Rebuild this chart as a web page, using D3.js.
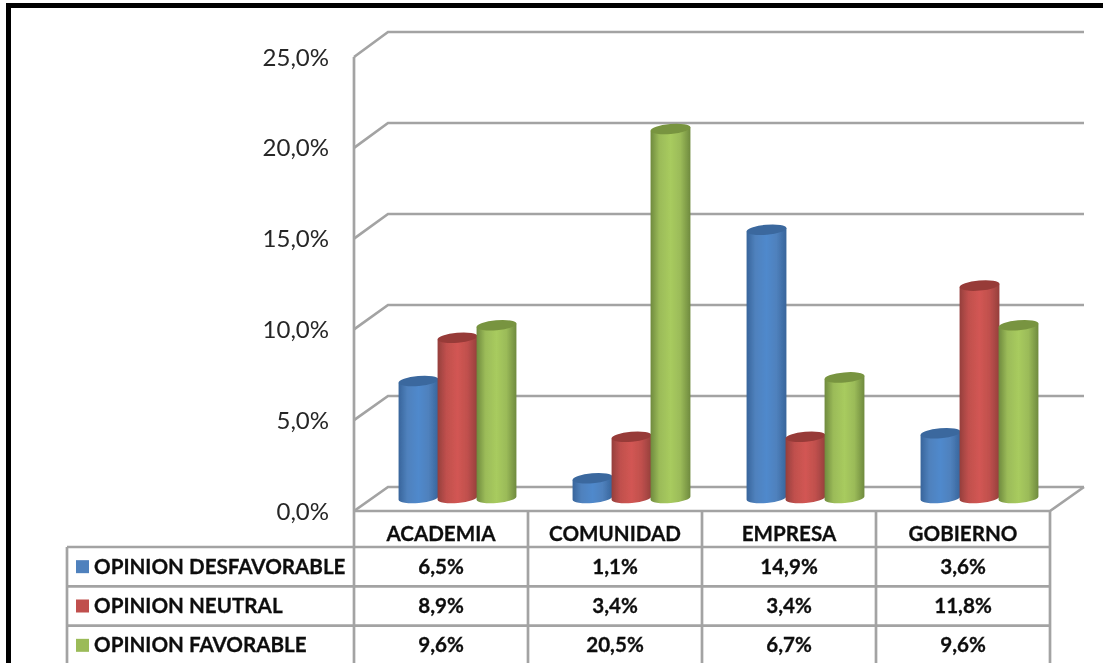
<!DOCTYPE html>
<html>
<head>
<meta charset="utf-8">
<script src="https://cdn.jsdelivr.net/npm/d3@7"></script>
<style>
  html, body { margin: 0; padding: 0; background: #fff; overflow: hidden; }
  text { font-family: Lato, "Open Sans", sans-serif; }
  .cell { font-size: 20.6px; font-weight: bold; fill: #111; stroke: #111; stroke-width: 0.3px; }
</style>
</head>
<body>
<div id="chart"></div>
<script>
const categories = ["ACADEMIA", "COMUNIDAD", "EMPRESA", "GOBIERNO"];
const seriesNames = ["OPINION DESFAVORABLE", "OPINION NEUTRAL", "OPINION FAVORABLE"];
const desfavorable = [6.5, 1.1, 14.9, 3.6];
const neutral = [8.9, 3.4, 3.4, 11.8];
const favorable = [9.6, 20.5, 6.7, 9.6];
const yTicks = [0, 5, 10, 15, 20, 25];
const seriesValues = [desfavorable, neutral, favorable];

const width = 1103, height = 663;
const colors = [
    { base: "#4f81bd", edge: "#38659b", light: "#5089cc", top: "#3a689e" },
    { base: "#c0504d", edge: "#953f3c", light: "#d25653", top: "#973a38" },
    { base: "#9bbb59", edge: "#6f8a3e", light: "#a8cb5e", top: "#78943f" }
];
const gridColor = "#a3a3a3";
const gridWidth = 2.7;

const svg = d3.select("#chart").append("svg")
    .attr("width", width)
    .attr("height", height);

const defs = svg.append("defs");
defs.append("filter").attr("id", "soft")
    .append("feGaussianBlur").attr("stdDeviation", 0.45);

colors.forEach((c, i) => {
    const g = defs.append("linearGradient").attr("id", "cyl" + i);
    g.append("stop").attr("offset", "0%").attr("stop-color", c.edge);
    g.append("stop").attr("offset", "22%").attr("stop-color", c.base);
    g.append("stop").attr("offset", "50%").attr("stop-color", c.light);
    g.append("stop").attr("offset", "75%").attr("stop-color", c.base);
    g.append("stop").attr("offset", "100%").attr("stop-color", c.edge);
});

const root = svg.append("g").attr("filter", "url(#soft)");

// black frame, top and left only
root.append("path")
    .attr("d", "M8.5,663V5.5H1103")
    .attr("fill", "none")
    .attr("stroke", "#000")
    .attr("stroke-width", 5);

// scales: front edge, back wall and the plane where the bars stand
const yFront = d3.scaleLinear().domain([0, 25]).range([511, 57]);
const yBack = d3.scaleLinear().domain([0, 25]).range([487, 32]);
const yBar = d3.scaleLinear().domain([0, 25]).range([498, 48]);
const x = d3.scaleBand().domain(categories).range([354, 1050]);
const depth = 34;

// walls
root.append("g").selectAll("path")
    .data(yTicks)
    .enter()
    .append("path")
    .attr("d", d => `M${x.range()[0]},${yFront(d)}L${x.range()[0] + depth},${yBack(d)}H${x.range()[1] + depth}`)
    .attr("fill", "none")
    .attr("stroke", gridColor)
    .attr("stroke-width", gridWidth);

root.append("path")
    .attr("d", `M${x.range()[0]},${yFront(0)}H${x.range()[1]}L${x.range()[1] + depth},${yBack(0)}`)
    .attr("fill", "none")
    .attr("stroke", gridColor)
    .attr("stroke-width", gridWidth);

// y axis
const yAxis = root.append("g")
    .attr("transform", `translate(${x.range()[0]},0)`)
    .call(d3.axisLeft(yFront).tickValues(yTicks).tickSize(0).tickPadding(25)
        .tickFormat(d => d.toFixed(1).replace(".", ",") + "%"));
yAxis.select(".domain").remove();
yAxis.selectAll("text")
    .style("font-size", "24px")
    .attr("fill", "#262626")
    .attr("dy", "0.34em");

// bars
const inner = d3.scaleBand().domain(d3.range(3)).range([45, 162]);
const rx = inner.bandwidth() / 2 + 0.5, ry = 5, tilt = -5;
const ex = rx * Math.cos(tilt * Math.PI / 180);
const ey = rx * Math.sin(tilt * Math.PI / 180);

seriesValues.forEach((values, s) => {
    const g = root.append("g");
    values.forEach((v, i) => {
        const cx = x(categories[i]) + inner(s) + inner.bandwidth() / 2;
        const yb = yBar(0), yt = yBar(v);
        // body
        g.append("path")
            .attr("d", `M${cx - ex},${yt - ey}L${cx - ex},${yb - ey}` +
                `A${rx},${ry} ${tilt} 0 0 ${cx + ex},${yb + ey}` +
                `L${cx + ex},${yt + ey}Z`)
            .attr("fill", `url(#cyl${s})`);
        // top cap
        g.append("ellipse")
            .attr("cx", cx)
            .attr("cy", yt)
            .attr("rx", rx)
            .attr("ry", ry)
            .attr("transform", `rotate(${tilt} ${cx} ${yt})`)
            .attr("fill", colors[s].top);
    });
});

// data table
const tableLeft = 67;
const rows = d3.scaleBand().domain(seriesNames).range([547, 665]);
const table = root.append("g");

table.append("g").selectAll("line")
    .data(categories.concat(["end"]))
    .enter()
    .append("line")
    .attr("x1", d => d === "end" ? x.range()[1] : x(d))
    .attr("x2", d => d === "end" ? x.range()[1] : x(d))
    .attr("y1", yFront(0))
    .attr("y2", height)
    .attr("stroke", gridColor)
    .attr("stroke-width", gridWidth);

table.append("line")
    .attr("x1", x.range()[0])
    .attr("x2", x.range()[0])
    .attr("y1", yFront(25))
    .attr("y2", yFront(0))
    .attr("stroke", gridColor)
    .attr("stroke-width", gridWidth);

table.append("line")
    .attr("x1", tableLeft)
    .attr("x2", tableLeft)
    .attr("y1", rows.range()[0])
    .attr("y2", height)
    .attr("stroke", gridColor)
    .attr("stroke-width", gridWidth);

table.append("g").selectAll("line")
    .data(seriesNames)
    .enter()
    .append("line")
    .attr("x1", tableLeft)
    .attr("x2", x.range()[1])
    .attr("y1", d => rows(d))
    .attr("y2", d => rows(d))
    .attr("stroke", gridColor)
    .attr("stroke-width", gridWidth);

// header
table.append("g").selectAll("text")
    .data(categories)
    .enter()
    .append("text")
    .attr("class", "cell")
    .attr("x", d => x(d) + x.bandwidth() / 2)
    .attr("y", 534)
    .attr("dy", "0.34em")
    .attr("text-anchor", "middle")
    .text(d => d);

// row labels and legend keys
seriesNames.forEach((name, s) => {
    const yc = rows(name) + rows.bandwidth() / 2;
    table.append("rect")
        .attr("x", 76)
        .attr("y", yc - 6.5)
        .attr("width", 13)
        .attr("height", 13)
        .attr("fill", colors[s].base);
    table.append("text")
        .attr("class", "cell")
        .attr("x", 94)
        .attr("y", yc)
        .attr("dy", "0.34em")
        .text(name);
    categories.forEach((c, i) => {
        table.append("text")
            .attr("class", "cell")
            .attr("x", x(c) + x.bandwidth() / 2)
            .attr("y", yc)
            .attr("dy", "0.34em")
            .attr("text-anchor", "middle")
            .text(seriesValues[s][i].toFixed(1).replace(".", ",") + "%");
    });
});
</script>
</body>
</html>
